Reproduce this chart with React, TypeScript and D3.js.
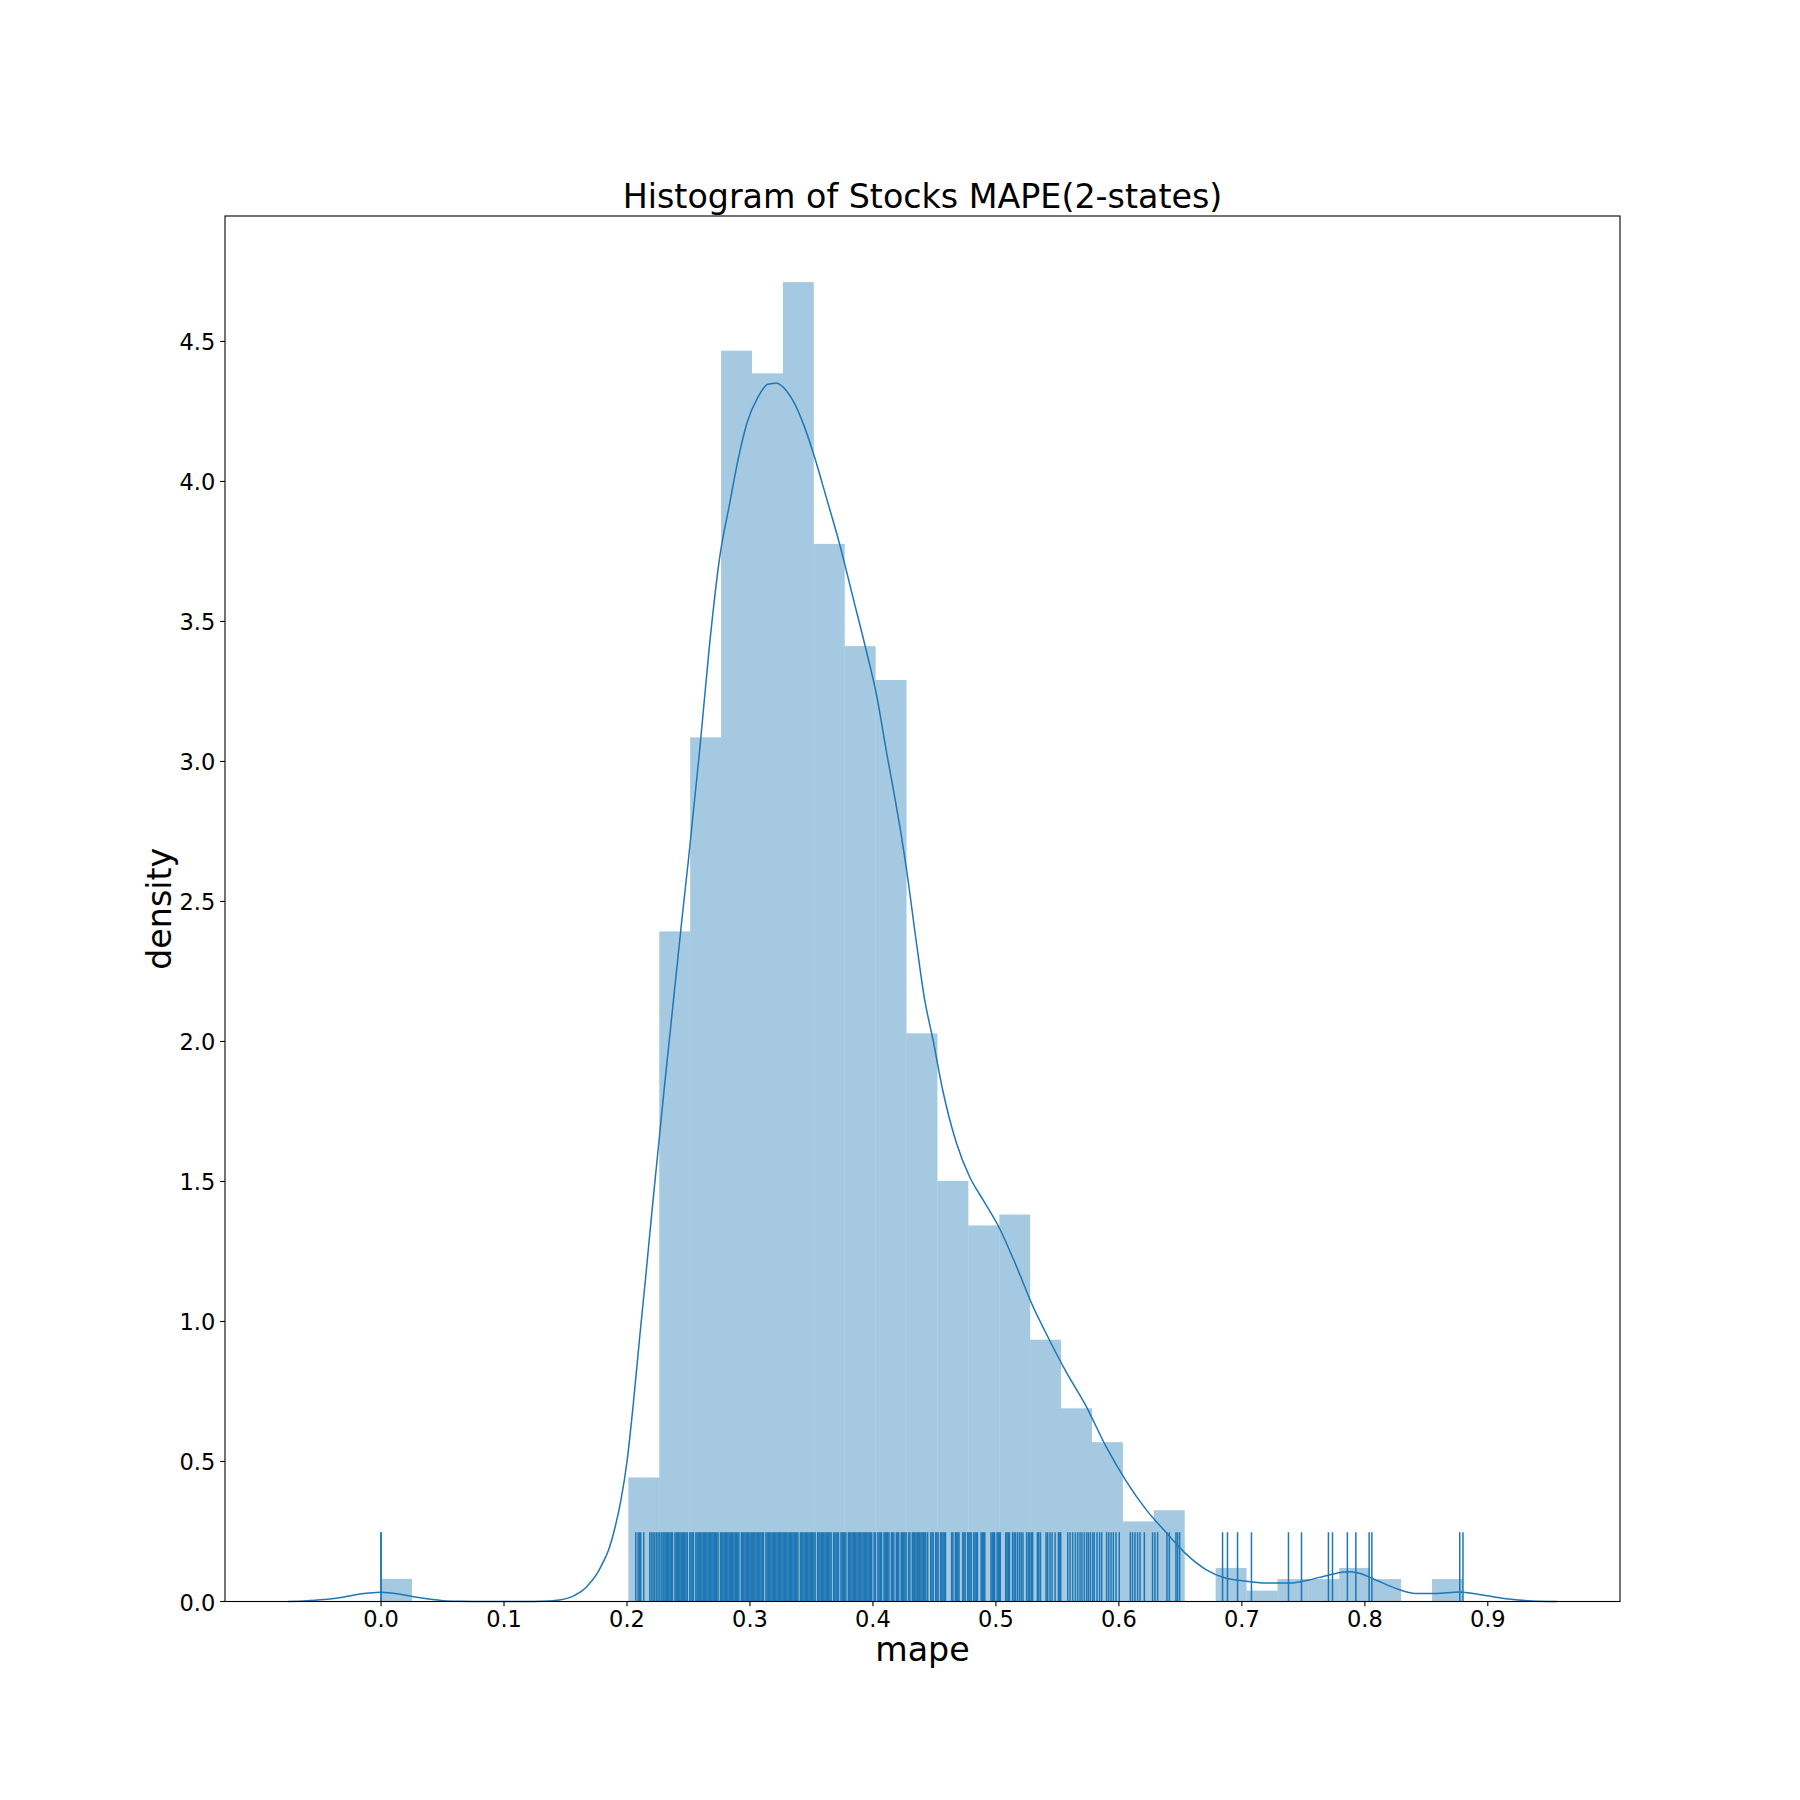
import React from "react";
import * as d3 from "d3";

// ---------- data ----------
const title = "Histogram of Stocks MAPE(2-states)";
const xLabel = "mape";
const yLabel = "density";

const xTicks = [0.0, 0.1, 0.2, 0.3, 0.4, 0.5, 0.6, 0.7, 0.8, 0.9];
const yTicks = [0.0, 0.5, 1.0, 1.5, 2.0, 2.5, 3.0, 3.5, 4.0, 4.5];

// histogram: 35 bins from data min to data max
const binMin = 0.0;
const binMax = 0.8798;
const histDensity = [
  0.081, 0, 0, 0, 0, 0, 0, 0, 0.443, 2.393, 3.086, 4.467, 4.386, 4.712, 3.777,
  3.412, 3.291, 2.029, 1.502, 1.343, 1.382, 0.935, 0.690, 0.569, 0.286, 0.326,
  0, 0.120, 0.039, 0.080, 0.080, 0.120, 0.080, 0, 0.080,
];

// KDE curve points
const kdeX = [
  -0.0756, -0.06, -0.0436, -0.03, -0.0218, -0.01, 0.0, 0.0145, 0.029, 0.04,
  0.0508, 0.065, 0.08, 0.1, 0.12, 0.13, 0.14, 0.145, 0.152, 0.1578, 0.1625,
  0.1668, 0.171, 0.1759, 0.18, 0.185, 0.19, 0.195, 0.2, 0.205, 0.21, 0.215,
  0.22, 0.225, 0.23, 0.235, 0.24, 0.245, 0.25, 0.2591, 0.2672, 0.2754, 0.2835,
  0.2902, 0.2978, 0.3065, 0.3146, 0.3219, 0.3295, 0.3363, 0.3444, 0.3525,
  0.362, 0.3728, 0.3837, 0.3945, 0.4027, 0.4108, 0.4216, 0.427, 0.4352,
  0.4419, 0.4487, 0.4568, 0.4677, 0.4786, 0.4893, 0.5029, 0.5164, 0.5299,
  0.5435, 0.557, 0.5733, 0.5895, 0.6058, 0.622, 0.6383, 0.6545, 0.6708,
  0.687, 0.7005, 0.7195, 0.7385, 0.7547, 0.771, 0.7858, 0.7953, 0.8089,
  0.8251, 0.8414, 0.8577, 0.8766, 0.8955, 0.9172, 0.9362, 0.956,
];
const kdeY = [
  0.0, 0.003, 0.008, 0.016, 0.023, 0.03, 0.033, 0.027, 0.015, 0.008, 0.003,
  0.001, 0.0, 0.0, 0.0, 0.001, 0.003, 0.005, 0.012, 0.023, 0.035, 0.051,
  0.072, 0.101, 0.135, 0.184, 0.26, 0.36, 0.5, 0.7, 0.93, 1.15, 1.38, 1.6,
  1.82, 2.03, 2.24, 2.45, 2.65, 3.04, 3.42, 3.73, 3.921, 4.075, 4.212, 4.301,
  4.347, 4.351, 4.325, 4.278, 4.194, 4.087, 3.944, 3.778, 3.587, 3.397, 3.242,
  3.04, 2.774, 2.624, 2.358, 2.153, 2.009, 1.825, 1.64, 1.517, 1.436, 1.333,
  1.2, 1.056, 0.934, 0.821, 0.698, 0.554, 0.431, 0.329, 0.247, 0.17, 0.114,
  0.083, 0.074, 0.066, 0.066, 0.077, 0.095, 0.106, 0.101, 0.077, 0.047,
  0.029, 0.029, 0.034, 0.023, 0.009, 0.002, 0.0,
];

const rugValues = [
  0.0, 0.0,
  0.2071, 0.209, 0.2101, 0.2112, 0.2136, 0.2185, 0.2199, 0.2212, 0.2225, 0.2239, 0.2252, 0.2266, 0.228, 0.2293,
  0.230, 0.231, 0.232, 0.233, 0.234, 0.235, 0.236, 0.237, 0.239,
  0.240, 0.241, 0.242, 0.243, 0.244, 0.245, 0.246, 0.247, 0.248, 0.249,
  0.251, 0.252, 0.253, 0.254, 0.256, 0.257, 0.258, 0.259,
  0.260, 0.261, 0.262, 0.263, 0.264, 0.265, 0.266, 0.267, 0.268, 0.269,
  0.270, 0.271, 0.272, 0.273, 0.274, 0.276, 0.277, 0.278, 0.279,
  0.280, 0.281, 0.282, 0.283, 0.284, 0.285, 0.286, 0.287, 0.288, 0.289,
  0.290, 0.291, 0.293, 0.294, 0.295, 0.296, 0.297, 0.298, 0.299,
  0.300, 0.301, 0.302, 0.303, 0.304, 0.305, 0.306, 0.307, 0.308, 0.309,
  0.310, 0.311, 0.313, 0.314, 0.315, 0.316, 0.317, 0.318, 0.319,
  0.320, 0.321, 0.322, 0.323, 0.324, 0.325, 0.326, 0.327, 0.328, 0.329,
  0.330, 0.331, 0.332, 0.333, 0.334, 0.335, 0.336, 0.337, 0.338, 0.339,
  0.341, 0.342, 0.343, 0.344, 0.345, 0.346, 0.347, 0.348, 0.349,
  0.350, 0.351, 0.352, 0.353, 0.355, 0.356, 0.357, 0.358, 0.359,
  0.360, 0.361, 0.362, 0.363, 0.364, 0.365, 0.366, 0.368, 0.369,
  0.370, 0.371, 0.372, 0.374, 0.375, 0.376, 0.377, 0.378,
  0.380, 0.381, 0.382, 0.383, 0.384, 0.385, 0.386, 0.387, 0.388, 0.389,
  0.390, 0.391, 0.392, 0.393, 0.394, 0.395, 0.396, 0.397, 0.398, 0.399,
  0.401, 0.402, 0.404, 0.405, 0.406, 0.407, 0.409,
  0.410, 0.411, 0.412, 0.413, 0.415, 0.416, 0.417, 0.419,
  0.420, 0.421, 0.423, 0.424, 0.425, 0.426, 0.427, 0.429,
  0.430, 0.432, 0.433, 0.434, 0.435, 0.436, 0.437, 0.438, 0.439,
  0.440, 0.441, 0.442, 0.443, 0.4445, 0.447, 0.448, 0.449,
  0.451, 0.452, 0.453, 0.455, 0.456, 0.457, 0.458, 0.459,
  0.464, 0.465, 0.467, 0.468, 0.469, 0.470, 0.473, 0.474, 0.475,
  0.477, 0.478, 0.479, 0.480, 0.482, 0.483, 0.484, 0.485,
  0.488, 0.489, 0.490, 0.491, 0.496, 0.497, 0.498, 0.499,
  0.501, 0.502, 0.503, 0.5035, 0.508, 0.509, 0.510, 0.511, 0.5135, 0.5148,
  0.5159, 0.5175, 0.5191, 0.5205, 0.522, 0.525, 0.5264, 0.5275, 0.5288,
  0.5299, 0.5337, 0.5348, 0.5362,
  0.5408, 0.5421, 0.544, 0.5457, 0.5481, 0.5508, 0.5519, 0.5527,
  0.5584, 0.5603, 0.5624, 0.5646, 0.5665, 0.5684, 0.57, 0.5719, 0.5738,
  0.5752, 0.5768, 0.5787, 0.58, 0.5822, 0.5843, 0.586, 0.59, 0.5917,
  0.5936, 0.5955, 0.5977, 0.6003,
  0.6093, 0.6111, 0.6131, 0.6152, 0.6172, 0.6207, 0.6274,
  0.6293, 0.6315, 0.6391, 0.641, 0.6464, 0.6477, 0.6494,
  0.6843, 0.6883, 0.6965, 0.7078, 0.7379, 0.7485, 0.7704, 0.7737,
  0.7858, 0.7927, 0.8035, 0.8057, 0.8772, 0.8798,
];

// ---------- layout ----------
const W = 1800;
const H = 1800;
const left = 225;
const right = 1620;
const top = 216;
const bottom = 1601.5;
const blue = "#1f77b4";
const font = "DejaVu Sans, Liberation Sans, sans-serif";

export default function App() {
  const x = d3.scaleLinear().domain([-0.1269, 1.0075]).range([left, right]);
  const y = d3.scaleLinear().domain([0, 4.948]).range([bottom, top]);

  const nBins = histDensity.length;
  const bw = (binMax - binMin) / nBins;

  const kdePts: [number, number][] = kdeX.map((v, i) => [v, kdeY[i]]);
  const line = d3
    .line<[number, number]>()
    .x((d) => x(d[0]))
    .y((d) => y(d[1]))
    .curve(d3.curveMonotoneX);

  const rugTop = bottom - 0.05 * (bottom - top);
  const tickLen = 4.86;

  return (
    <svg
      width={W}
      height={H}
      style={{ position: "absolute", left: 0, top: 0, background: "#fff" }}
      fontFamily={font}
    >
      <rect x={0} y={0} width={W} height={H} fill="#fff" />
      {/* histogram bars */}
      <g>
        {histDensity.map((d, i) =>
          d > 0 ? (
            <rect
              key={i}
              x={x(binMin + i * bw)}
              y={y(d)}
              width={x(binMin + (i + 1) * bw) - x(binMin + i * bw)}
              height={y(0) - y(d)}
              fill={blue}
              fillOpacity={0.4}
            />
          ) : null
        )}
      </g>
      {/* kde */}
      <path d={line(kdePts) || ""} fill="none" stroke={blue} strokeWidth={1.5} />
      {/* rug */}
      <g>
        {rugValues.map((v, i) => (
          <line
            key={i}
            x1={x(v)}
            x2={x(v)}
            y1={bottom}
            y2={rugTop}
            stroke={blue}
            strokeWidth={1.5}
          />
        ))}
      </g>
      {/* spines */}
      <rect
        x={left}
        y={top}
        width={right - left}
        height={bottom - top}
        fill="none"
        stroke="#000"
        strokeWidth={1.1}
      />
      {/* x ticks */}
      <g>
        {xTicks.map((t) => (
          <g key={t}>
            <line x1={x(t)} x2={x(t)} y1={bottom} y2={bottom + tickLen} stroke="#000" strokeWidth={1.1} />
            <text x={x(t)} y={bottom + 25.5} textAnchor="middle" fontSize={22.5} fill="#000">
              {d3.format(".1f")(t)}
            </text>
          </g>
        ))}
      </g>
      {/* y ticks */}
      <g>
        {yTicks.map((t) => (
          <g key={t}>
            <line x1={left - tickLen} x2={left} y1={y(t)} y2={y(t)} stroke="#000" strokeWidth={1.1} />
            <text x={left - 9.7} y={y(t) + 9} textAnchor="end" fontSize={22.5} fill="#000">
              {d3.format(".1f")(t)}
            </text>
          </g>
        ))}
      </g>
      {/* labels */}
      <text x={(left + right) / 2} y={1660.5} textAnchor="middle" fontSize={33.3} fill="#000">
        {xLabel}
      </text>
      <text
        transform={`translate(170.7, ${(top + bottom) / 2}) rotate(-90)`}
        textAnchor="middle"
        fontSize={33.3}
        fill="#000"
      >
        {yLabel}
      </text>
      <text x={(left + right) / 2} y={207.7} textAnchor="middle" fontSize={33.3} fill="#000">
        {title}
      </text>
    </svg>
  );
}
